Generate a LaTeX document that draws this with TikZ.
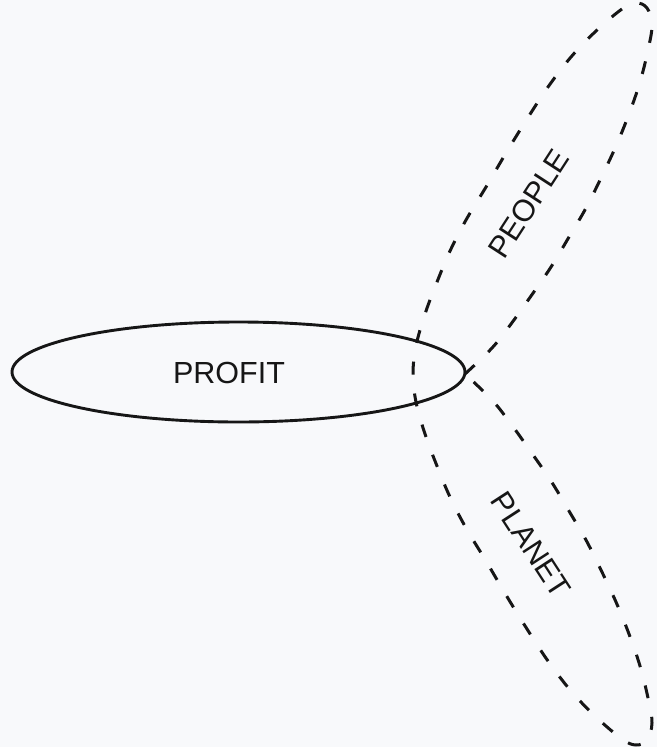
\documentclass[tikz,border=0pt]{standalone}
\usepackage{fontspec}
\setmainfont{Liberation Sans}
\definecolor{bgc}{RGB}{248,249,251}
\definecolor{ink}{RGB}{22,22,22}
\begin{document}
\begin{tikzpicture}[x=1pt,y=-1pt,
  solidline/.style={draw=ink,line width=2.9pt},
  dashline/.style={draw=ink,line width=3pt,dash pattern=on 13pt off 19pt},
  label/.style={text=ink,font=\fontsize{30.5}{36}\selectfont,inner sep=0pt}]
\fill[bgc] (0,0) rectangle (657,747);
\useasboundingbox (0,0) rectangle (657,747);
% PROFIT
\draw[solidline] (238.5,372) ellipse [x radius=226.5, y radius=50];
\node[label] (profit) at (229,372.5) {PROFIT};
% PEOPLE / PLANET dashed outline
\draw[dashline] plot[smooth,tension=0.6] coordinates {
 (465,374) (492,348) (511,324) (531,296) (551,267) (569,237) (586,208)
 (601,178) (616,146) (629,114) (640,82) (648,50) (652,25) (647,8)
 (636,3) (622,9) (596,31) (571,57) (548,87) (527,119) (506,153)
 (486,187) (466,220) (450,251) (437,282) (425,314) (416,346) (413,374)
 (416,402) (425,434) (437,466) (450,497) (466,528) (486,561) (506,595)
 (527,629) (548,661) (571,691) (596,717) (622,739) (636,745) (647,740)
 (652,723) (648,698) (640,666) (629,634) (616,602) (601,570) (586,540)
 (569,511) (551,481) (531,452) (511,424) (492,400) (465,374)};
\node[label,rotate=57] (people) at (529,204) {PEOPLE};
\node[label,rotate=-57] (planet) at (531,545) {PLANET};
\end{tikzpicture}
\end{document}
